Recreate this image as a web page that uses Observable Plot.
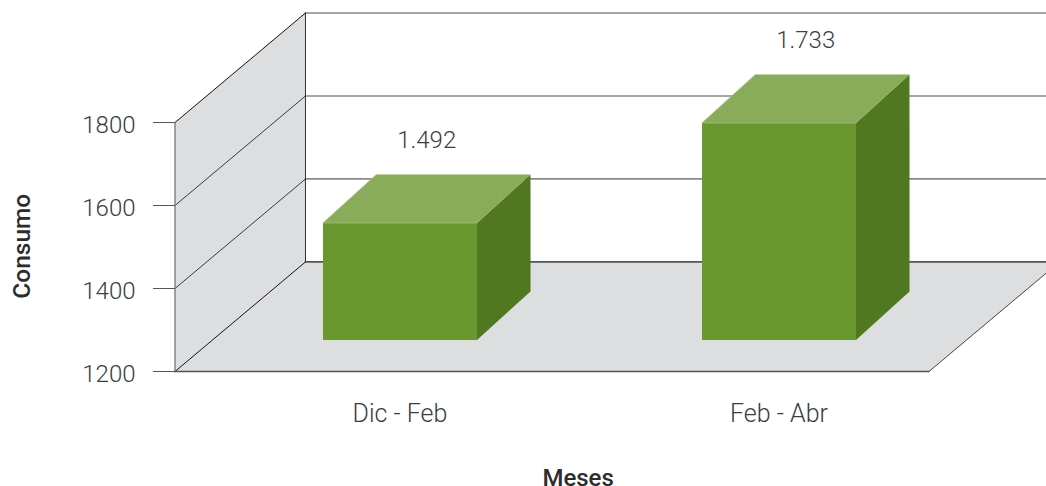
<!DOCTYPE html>
<html>
<head>
<meta charset="utf-8">
<script src="https://cdn.jsdelivr.net/npm/d3@7"></script>
<script src="https://cdn.jsdelivr.net/npm/@observablehq/plot@0.6"></script>
<style>
html,body{margin:0;padding:0;background:#fff;overflow:hidden}
svg{display:block}
</style>
</head>
<body>
<div id="chart"></div>
<script>
const categories = ["Dic - Feb", "Feb - Abr"];
const consumo = [1492, 1733];
const yTicks = [1200, 1400, 1600, 1800];

// Pseudo-3D box, expressed in scale units (category index, consumo)
const yBase = 1200;
const wallDepthX = 0.3443, wallDepthY = 264;
const barDepthX = 0.1412, barDepthY = 117;
const barHalf = 0.2032;
const floorLeft = -0.5937, floorRight = 1.3958;
const barBase = 1276, barLift = 66;
const farRight = 1.9;

const fmt = d3.formatLocale({decimal: ",", thousands: ".", grouping: [3], currency: ["", ""]}).format(",");
const pts = (...p) => p.map(([x, y]) => ({x, y}));
const face = (p, fill) => Plot.line(pts(...p), {x: "x", y: "y", fill, stroke: "none", curve: "linear"});
const edge = (p, stroke, strokeWidth = 1) => Plot.line(pts(...p), {x: "x", y: "y", stroke, strokeWidth});

const backL = floorLeft + wallDepthX;
const backR = floorRight + wallDepthX;
const topV = yTicks[yTicks.length - 1];

const marks = [
  // floor and left wall
  face([[floorLeft, yBase], [backL, yBase + wallDepthY], [backR, yBase + wallDepthY], [floorRight, yBase]], "#dddee0"),
  face([[floorLeft, yBase], [backL, yBase + wallDepthY], [backL, topV + wallDepthY], [floorLeft, topV]], "#dddee0"),
  // back wall grid lines
  ...yTicks.map(v => edge([[backL, v + wallDepthY], [farRight, v + wallDepthY]], v === yBase ? "#555" : "#8a8a8a", 1.7)),
  // left wall diagonals
  ...yTicks.map(v => edge([[floorLeft, v], [backL, v + wallDepthY]], v === yBase || v === topV ? "#111" : "#3a3a3a", 1)),
  edge([[floorLeft, yBase], [floorLeft, topV]], "#777", 1.3),
  edge([[backL, yBase + wallDepthY], [backL, topV + wallDepthY]], "#333", 1),
  // floor edges
  edge([[floorLeft, yBase], [floorRight, yBase]], "#555", 1.4),
  edge([[floorRight, yBase], [backR, yBase + wallDepthY]], "#444", 1),
  // axes
  Plot.axisY({ticks: yTicks, tickSize: 22, text: null, stroke: "#555", label: null}),
  Plot.axisY({ticks: yTicks, tickSize: 0, tickPadding: 40, dy: 3, tickFormat: d => String(d), fill: "#3c3c3c", fontSize: 24, label: null, fontVariant: "normal"}),
  Plot.axisX({ticks: [0, 1], tickSize: 0, tickPadding: 32, tickFormat: i => categories[i], fill: "#3c3c3c", fontSize: 25, label: null}),
  // bars
  ...consumo.flatMap((v, i) => {
    const l = i - barHalf, r = i + barHalf, t = v + barLift;
    return [
      face([[r, barBase], [r + barDepthX, barBase + barDepthY], [r + barDepthX, t + barDepthY], [r, t]], "#507821"),
      face([[l, t], [l + barDepthX, t + barDepthY], [r + barDepthX, t + barDepthY], [r, t]], "#89ac5a"),
      face([[l, barBase], [l, t], [r, t], [r, barBase]], "#69982e"),
      edge([[l + barDepthX, t + barDepthY], [l, t], [r, t]], "#a5c080", 0.8)
    ];
  }),
  // value labels
  Plot.text(consumo, {
    x: (_, i) => i + barDepthX / 2,
    y: d => d + barLift + barDepthY,
    text: d => fmt(d),
    dy: -34,
    fontSize: 24,
    fill: "#3c3c3c",
    fontWeight: 300
  }),
  // axis titles
  Plot.text(["Consumo"], {frameAnchor: "left", dx: -153, dy: 106, rotate: -90, fontSize: 24.5, fontWeight: 500, fill: "#2c2c2c"}),
  Plot.text(["Meses"], {frameAnchor: "bottom", dy: 113.5, x: [0.47], fontSize: 24, fontWeight: 500, fill: "#2c2c2c"})
];

const plot = Plot.plot({
  width: 1046,
  height: 486,
  marginLeft: 175,
  marginRight: 0,
  marginTop: 13,
  marginBottom: 114.5,
  x: {domain: [0, 1], range: [399.5, 778.5], axis: null},
  y: {domain: [1200, 2064], range: [371, 12.5], axis: null},
  style: {fontFamily: "Roboto, 'Liberation Sans', sans-serif", fontWeight: 300, background: "#fff", overflow: "hidden"},
  marks
});
document.getElementById("chart").appendChild(plot);
</script>
</body>
</html>
